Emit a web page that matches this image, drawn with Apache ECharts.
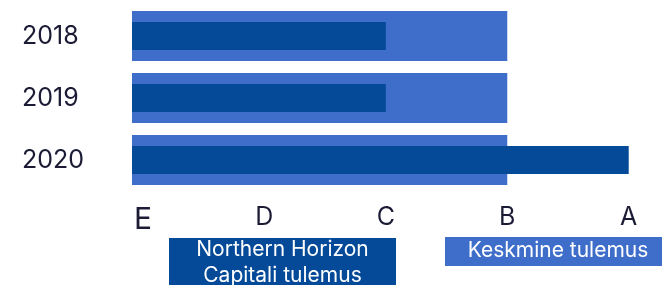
<!DOCTYPE html>
<html>
<head>
<meta charset="utf-8">
<script src="https://cdn.jsdelivr.net/npm/echarts@6/dist/echarts.min.js"></script>
<style>
  html, body { margin: 0; padding: 0; background: #fff; }
  #chart { width: 662px; height: 285px; }
</style>
</head>
<body>
<div id="chart"></div>
<script>
// categories and scores (E..A mapped to 1..5)
const years = ['2018', '2019', '2020']
const tickLabels = ['E', 'D', 'C', 'B', 'A']
const tickValues = [1, 2, 3, 4, 5]
const fundScore = [3, 3, 5]
const averageScore = [4, 4, 4]
const seriesNames = ['Northern Horizon\nCapitali tulemus', 'Keskmine tulemus']

const DARK = '#054a98'
const LIGHT = '#3e6dca'
const TEXT = '#1b1b35'
const FONT = 'Inter, "Noto Sans", sans-serif'

const chart = echarts.init(document.getElementById('chart'), null, { renderer: 'canvas' })

// second category axis (hidden) so the narrow bar sits centred on the wide one
const hiddenAxis = {
  type: 'category',
  data: years,
  inverse: true,
  show: false
}

chart.setOption({
  animation: false,
  grid: {
    left: 132,
    right: 9,
    top: 5,
    bottom: 94
  },
  xAxis: {
    type: 'value',
    min: 0.91,
    max: 5.2,
    splitLine: { show: false },
    axisLine: { show: false },
    axisTick: { show: false },
    axisLabel: {
      customValues: tickValues,
      margin: 14,
      color: TEXT,
      fontFamily: FONT,
      fontSize: 25,
      formatter: v => {
        const label = tickLabels[tickValues.indexOf(v)]
        return label === 'E' ? '{e|' + label + '}' : label
      },
      rich: {
        e: { fontSize: 30, color: TEXT, fontFamily: FONT }
      }
    }
  },
  yAxis: [
    {
      type: 'category',
      data: years,
      inverse: true,
      axisLine: { show: false },
      axisTick: { show: false },
      axisLabel: {
        margin: 110,
        align: 'left',
        color: TEXT,
        fontFamily: FONT,
        fontSize: 25
      }
    },
    hiddenAxis
  ],
  series: [
    {
      name: seriesNames[1],
      type: 'bar',
      yAxisIndex: 0,
      data: averageScore,
      barWidth: 50,
      itemStyle: { color: LIGHT },
      z: 1
    },
    {
      name: seriesNames[0],
      type: 'bar',
      yAxisIndex: 1,
      data: fundScore,
      barWidth: 28,
      itemStyle: { color: DARK },
      z: 2
    }
  ],
  graphic: [
    {
      type: 'group',
      left: 169,
      top: 237,
      children: [
        { type: 'rect', shape: { x: 0, y: 0, width: 227, height: 60 }, style: { fill: DARK } },
        {
          type: 'text',
          x: 113.5,
          y: 25,
          style: {
            text: seriesNames[0],
            fill: '#fff',
            font: '21px ' + FONT,
            align: 'center',
            verticalAlign: 'middle',
            lineHeight: 26
          }
        }
      ]
    },
    {
      type: 'group',
      left: 445,
      top: 237,
      children: [
        { type: 'rect', shape: { x: 0, y: 0, width: 230, height: 29 }, style: { fill: LIGHT } },
        {
          type: 'text',
          x: 113,
          y: 14,
          style: {
            text: seriesNames[1],
            fill: '#fff',
            font: '21px ' + FONT,
            align: 'center',
            verticalAlign: 'middle'
          }
        }
      ]
    }
  ]
})
</script>
</body>
</html>
